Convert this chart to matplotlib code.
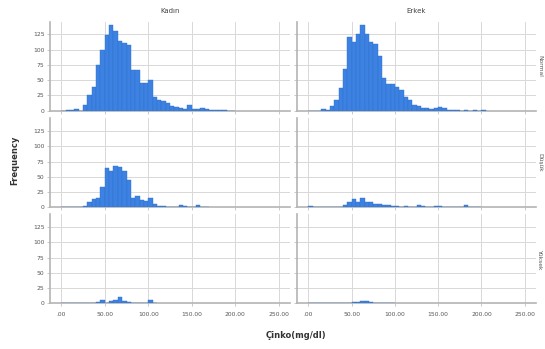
import numpy as np
import matplotlib
matplotlib.use("Agg")
import matplotlib.pyplot as plt

# ---- data (bin width 5, bins start at 0) ----
bin_width = 5
columns = ["Kadın", "Erkek"]
rows = ["Normal", "Düşük", "Yüksek"]

kadin_row1 = [0, 1, 1, 2, 0, 9, 25, 38, 75, 100, 124, 140, 131, 115, 111, 108, 67, 66, 45, 46,
              50, 23, 18, 15, 12, 7, 6, 5, 2, 9, 3, 2, 5, 2, 1, 1, 1, 1, 0, 0]
erkek_row1 = [0, 0, 0, 3, 1, 7, 18, 37, 68, 120, 112, 126, 140, 125, 112, 110, 89, 54, 43, 43,
              38, 34, 23, 18, 9, 8, 4, 4, 3, 5, 6, 4, 1, 1, 1, 0, 1, 0, 1, 0, 1]
kadin_row2 = [0, 1, 0, 1, 1, 2, 8, 13, 16, 33, 64, 59, 67, 66, 60, 44, 16, 19, 12, 11,
              16, 6, 2, 2, 1, 1, 0, 4, 2, 0, 1, 4, 1, 0]
erkek_row2 = [2, 0, 0, 0, 0, 0, 1, 1, 3, 9, 14, 9, 16, 9, 8, 6, 5, 4, 4, 2,
              2, 1, 2, 1, 1, 4, 2, 1, 1, 2, 2, 1, 1, 1, 0, 1, 4, 1, 0, 1]
kadin_row3 = [0, 0, 0, 0, 0, 0, 1, 1, 2, 5, 1, 4, 5, 10, 4, 2, 1, 1, 1, 1, 5, 1]
erkek_row3 = [0, 0, 0, 0, 0, 0, 0, 0, 0, 1, 2, 2, 3, 4, 2, 1, 1, 1, 0, 1]

panels = [[kadin_row1, erkek_row1], [kadin_row2, erkek_row2], [kadin_row3, erkek_row3]]

x_ticks = [0, 50, 100, 150, 200, 250]
x_tick_labels = [".00", "50.00", "100.00", "150.00", "200.00", "250.00"]
y_ticks = [0, 25, 50, 75, 100, 125]

# ---- layout ----
W, H = 545, 349
fig = plt.figure(figsize=(W / 100, H / 100), dpi=100)
fig.patch.set_facecolor("white")

col_left = [50 / W, 297 / W]
col_width = [240 / W, 239 / W]
row_bottom = [0.683, 0.406, 0.131]
row_height = 0.255

bar_color = "#3d82e2"
edge_color = "#2f70cc"
grid_color = "#d8d8d8"
spine_color = "#b4b4b4"
text_color = "#555555"

for r in range(3):
    for c in range(2):
        ax = fig.add_axes([col_left[c], row_bottom[r], col_width[c], row_height])
        counts = panels[r][c]
        edges = np.arange(len(counts)) * bin_width
        ax.bar(edges, counts, width=bin_width, align="edge", color=bar_color,
               edgecolor=edge_color, linewidth=0.3, zorder=3)
        ax.set_xlim(-13, 263)
        ax.set_ylim(0, 146)
        ax.set_xticks(x_ticks)
        ax.set_yticks(y_ticks)
        ax.grid(True, color=grid_color, linewidth=0.7, zorder=0)
        ax.set_axisbelow(True)
        for s in ["top", "right"]:
            ax.spines[s].set_visible(False)
        for s in ["left", "bottom"]:
            ax.spines[s].set_color(spine_color)
            ax.spines[s].set_linewidth(1.2)
        ax.tick_params(axis="both", length=2, width=0.5, color=spine_color,
                       labelsize=4.3, labelcolor=text_color, pad=2)
        ax.tick_params(axis="x", pad=4)
        if c == 0:
            ax.set_yticklabels([str(v) for v in y_ticks])
        else:
            ax.set_yticklabels([])
        if r == 2:
            ax.set_xticklabels(x_tick_labels)
        else:
            ax.set_xticklabels([])
        if r == 0:
            ax.set_title(columns[c], fontsize=5, color="#444444", pad=6)
        if c == 1:
            ax.text(1.005, 0.5, rows[r], transform=ax.transAxes, rotation=270,
                    ha="left", va="center", fontsize=4.3, color=text_color)

fig.text(15 / W, 1 - 160 / H, "Frequency", rotation=90, ha="center", va="center",
         fontsize=6, fontweight="bold", color="#333333")
fig.text(296 / W, 1 - 335 / H, "Çinko(mg/dl)", ha="center", va="center",
         fontsize=6, fontweight="bold", color="#333333")

fig.savefig("out.png", dpi=100, facecolor="white")
